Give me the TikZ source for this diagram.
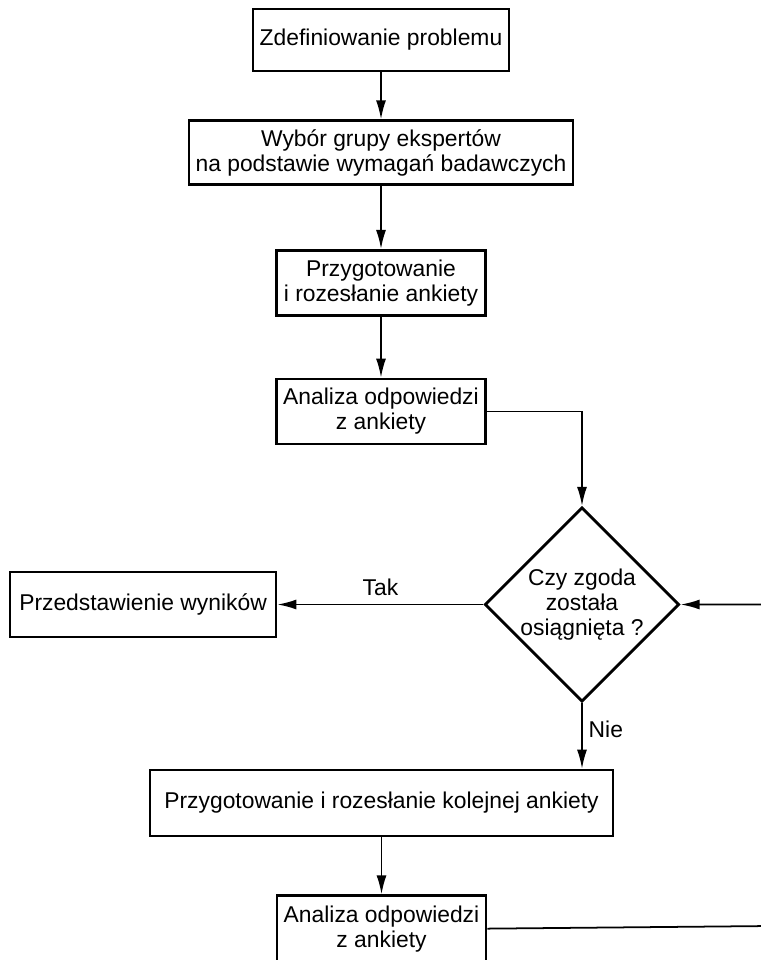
\documentclass[tikz,border=0pt]{standalone}
\usepackage{fontspec}
\setmainfont{Liberation Sans}
\usetikzlibrary{positioning, arrows.meta, shapes.geometric}
\tikzset{
  box/.style={
    draw, line width=1.5pt, minimum width=4.18cm, minimum height=1.30cm,
    align=center, inner sep=2pt
  },
  decision/.style={
    draw, diamond, line width=1.6pt, aspect=1, minimum width=3.82cm,
    minimum height=3.82cm, inner sep=0pt, align=center
  },
  flow/.style={-{Latex[length=3.8mm,width=2mm]}, line width=1pt}
}

\begin{document}
\begin{tikzpicture}[font=\fontsize{13}{14.2}\selectfont]
      \useasboundingbox (0,0) rectangle (15.22,-19.2);

      \node[box, minimum width=5.12cm, minimum height=1.24cm] (problem) at (7.62,-0.80) {Zdefiniowanie problemu};
      \node[box, minimum width=7.68cm, minimum height=1.28cm, below=0.94cm of problem] (eksperci) {Wybór grupy ekspertów\\na podstawie wymagań badawczych};
      \node[box, below=1.26cm of eksperci] (ankieta) {Przygotowanie\\i rozesłanie ankiety};
      \node[box, below=1.22cm of ankieta] (analiza) {Analiza odpowiedzi\\z ankiety};
      \node[decision] (zgoda) at (11.64,-12.09) {Czy zgoda\\została\\osiągnięta ?};
      \node[box, minimum width=5.32cm, left=4.12cm of zgoda] (wyniki) {Przedstawienie wyników};
      \node[box, minimum width=9.26cm, minimum height=1.32cm] (kolejna) at (7.63,-16.06) {Przygotowanie i rozesłanie kolejnej ankiety};
      \node[box, minimum height=1.32cm, below=1.14cm of kolejna] (analiza2) {Analiza odpowiedzi\\z ankiety};
      % powrot poza prawa krawedzia
      \coordinate (powrot) at (15.4,-18.52);

      \draw[flow] (problem) -- (eksperci);
      \draw[flow] (eksperci) -- (ankieta);
      \draw[flow] (ankieta) -- (analiza);
      \draw[flow] (analiza.east) -| (zgoda.north);
      \draw[flow] (zgoda.west) -- node[above=1pt] {Tak} (wyniki.east);
      \draw[flow] (zgoda.south) -- node[right, pos=0.4] {Nie} (zgoda.south |- kolejna.north);
      \draw[flow] (kolejna) -- (analiza2);
      \draw[flow] (analiza2.east) -- (powrot) |- (zgoda.east);
\end{tikzpicture}
\end{document}
